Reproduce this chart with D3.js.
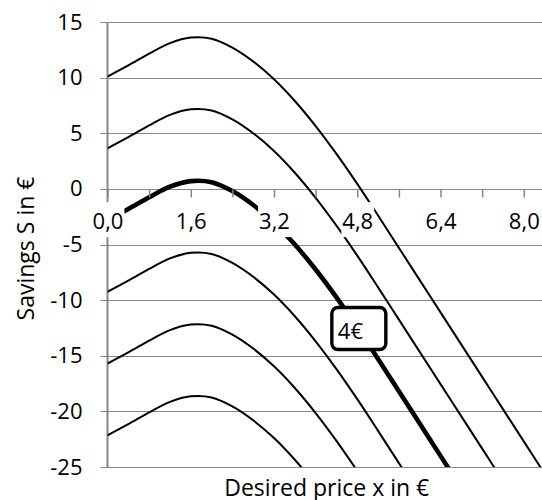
<!DOCTYPE html>
<html>
<head>
<meta charset="utf-8">
<script src="https://cdn.jsdelivr.net/npm/d3@7"></script>
<style>
  body { margin: 0; background: #fff; }
  text { font-family: "Open Sans", sans-serif; fill: #000; }
</style>
</head>
<body>
<svg id="chart" width="542" height="500"></svg>
<script>
// desired price x (€)
const xValues = [0, 0.4, 0.8, 1.2, 1.6, 2.0, 2.4, 2.8, 3.2, 3.6, 4.0, 4.4,
                 4.8, 5.2, 5.6, 6.0, 6.4, 6.8, 7.2, 7.6, 8.0, 8.4];

// savings S (€), one array per curve
const savings1 = [10.1, 11.1, 12.15, 13.1, 13.6, 13.5, 12.7, 11.45, 9.85, 7.9, 5.65, 3.15,
                  0.45, -2.4, -5.3, -8.2, -11.1, -14.0, -16.9, -19.8, -22.7, -25.6];
const savings2 = [3.65, 4.65, 5.7, 6.65, 7.15, 7.05, 6.25, 5.0, 3.4, 1.45, -0.8, -3.3,
                  -6.0, -8.85, -11.75, -14.65, -17.55, -20.45, -23.35, -26.25];
const savings4eur = [-2.8, -1.8, -0.75, 0.2, 0.7, 0.6, -0.2, -1.45, -3.05, -5.0, -7.25, -9.75,
                     -12.45, -15.3, -18.2, -21.1, -24.0, -26.9];
const savings4 = [-9.25, -8.25, -7.2, -6.25, -5.75, -5.85, -6.65, -7.9, -9.5, -11.45, -13.7, -16.2,
                  -18.9, -21.75, -24.65, -27.55];
const savings5 = [-15.7, -14.7, -13.65, -12.7, -12.2, -12.3, -13.1, -14.35, -15.95, -17.9, -20.15, -22.65,
                  -25.35];
const savings6 = [-22.15, -21.15, -20.1, -19.15, -18.65, -18.75, -19.55, -20.8, -22.4, -24.35, -26.6];

const seriesList = [
  {name: 's1', values: savings1, bold: false},
  {name: 's2', values: savings2, bold: false},
  {name: '4€', values: savings4eur, bold: true},
  {name: 's4', values: savings4, bold: false},
  {name: 's5', values: savings5, bold: false},
  {name: 's6', values: savings6, bold: false}
];

const xTicks = [0, 0.8, 1.6, 2.4, 3.2, 4.0, 4.8, 5.6, 6.4, 7.2, 8.0];
const xTickLabels = [0, 1.6, 3.2, 4.8, 6.4, 8.0];
const yTicks = [-25, -20, -15, -10, -5, 0, 5, 10, 15];

const calloutText = '4€';
const calloutAt = [4.83, -12.6];

const xLabel = 'Desired price x in €';
const yLabel = 'Savings  S in €';

const width = 542;
const height = 500;
const plot = {left: 107.5, right: 542, top: 22, bottom: 467};

const svg = d3.select('#chart');

const xScale = d3.scaleLinear()
  .domain([0, 8.35])
  .range([plot.left, plot.right]);

const yScale = d3.scaleLinear()
  .domain([-25, 15])
  .range([plot.bottom, plot.top]);

const gridColor = '#868686';

// horizontal gridlines (0 line doubles as x axis)
svg.append('g')
  .attr('class', 'grid')
  .selectAll('line')
  .data(yTicks)
  .enter().append('line')
  .attr('x1', plot.left - 7)
  .attr('x2', plot.right)
  .attr('y1', d => Math.round(yScale(d)) + 0.5)
  .attr('y2', d => Math.round(yScale(d)) + 0.5)
  .attr('stroke', gridColor)
  .attr('stroke-width', 1.2);

// y axis line
svg.append('line')
  .attr('x1', plot.left)
  .attr('x2', plot.left)
  .attr('y1', yScale(15))
  .attr('y2', yScale(-25))
  .attr('stroke', gridColor)
  .attr('stroke-width', 2);

// curves
svg.append('clipPath')
  .attr('id', 'plotClip')
  .append('rect')
  .attr('x', plot.left)
  .attr('y', plot.top)
  .attr('width', plot.right - plot.left)
  .attr('height', plot.bottom - plot.top);

const line = d3.line()
  .x((d, i) => xScale(xValues[i]))
  .y(d => yScale(d))
  .curve(d3.curveCatmullRom.alpha(0.5));

svg.append('g')
  .attr('clip-path', 'url(#plotClip)')
  .selectAll('path')
  .data(seriesList)
  .enter().append('path')
  .attr('d', d => line(d.values))
  .attr('fill', 'none')
  .attr('stroke', '#000')
  .attr('stroke-width', d => d.bold ? 4.6 : 2)
  .attr('stroke-linejoin', 'round');

// x axis at S = 0
const xAxis = d3.axisBottom(xScale)
  .tickValues(xTicks)
  .tickSize(8)
  .tickPadding(16)
  .tickFormat(d => xTickLabels.some(v => Math.abs(v - d) < 1e-9) ? d.toFixed(1).replace('.', ',') : '');

const xAxisG = svg.append('g')
  .attr('class', 'xAxis')
  .attr('transform', `translate(0,${Math.round(yScale(0)) + 0.5})`)
  .call(xAxis);

xAxisG.select('.domain').remove();
xAxisG.selectAll('.tick line').attr('stroke', gridColor).attr('stroke-width', 1.5);
xAxisG.selectAll('.tick text')
  .attr('font-size', 22)
  .attr('fill', '#000');

// white boxes behind the x tick labels (they hide the curves)
xAxisG.selectAll('.tick').each(function() {
  const t = d3.select(this).select('text');
  if (!t.text()) return;
  const bb = t.node().getBBox();
  d3.select(this).insert('rect', 'text')
    .attr('x', bb.x - 1)
    .attr('y', bb.y - 3)
    .attr('width', bb.width + 2)
    .attr('height', bb.height + 5)
    .attr('fill', '#fff');
});

// y axis ticks + labels
const yAxis = d3.axisLeft(yScale)
  .tickValues(yTicks)
  .tickSize(0)
  .tickPadding(25)
  .tickFormat(d => String(d));

const yAxisG = svg.append('g')
  .attr('class', 'yAxis')
  .attr('transform', `translate(${plot.left},0)`)
  .call(yAxis);
yAxisG.select('.domain').remove();
yAxisG.selectAll('.tick text')
  .attr('font-size', 22)
  .attr('fill', '#000');

// axis titles
svg.append('text')
  .attr('x', (plot.left + plot.right) / 2 + 2)
  .attr('y', 496)
  .attr('text-anchor', 'middle')
  .attr('font-size', 23)
  .text(xLabel);

svg.append('text')
  .attr('transform', `translate(34,${(plot.top + plot.bottom) / 2 + 4}) rotate(-90)`)
  .attr('text-anchor', 'middle')
  .attr('font-size', 23)
  .text(yLabel);

// callout on the bold curve
const cx = xScale(calloutAt[0]);
const cy = yScale(calloutAt[1]);
const callout = svg.append('g').attr('class', 'callout');
callout.append('rect')
  .attr('x', cx - 27)
  .attr('y', cy - 21.5)
  .attr('width', 54)
  .attr('height', 42)
  .attr('rx', 6)
  .attr('fill', '#fff')
  .attr('stroke', '#000')
  .attr('stroke-width', 3.4);
callout.append('text')
  .attr('x', cx - 21)
  .attr('y', cy + 9.5)
  .attr('font-size', 22)
  .text(calloutText);
</script>
</body>
</html>
